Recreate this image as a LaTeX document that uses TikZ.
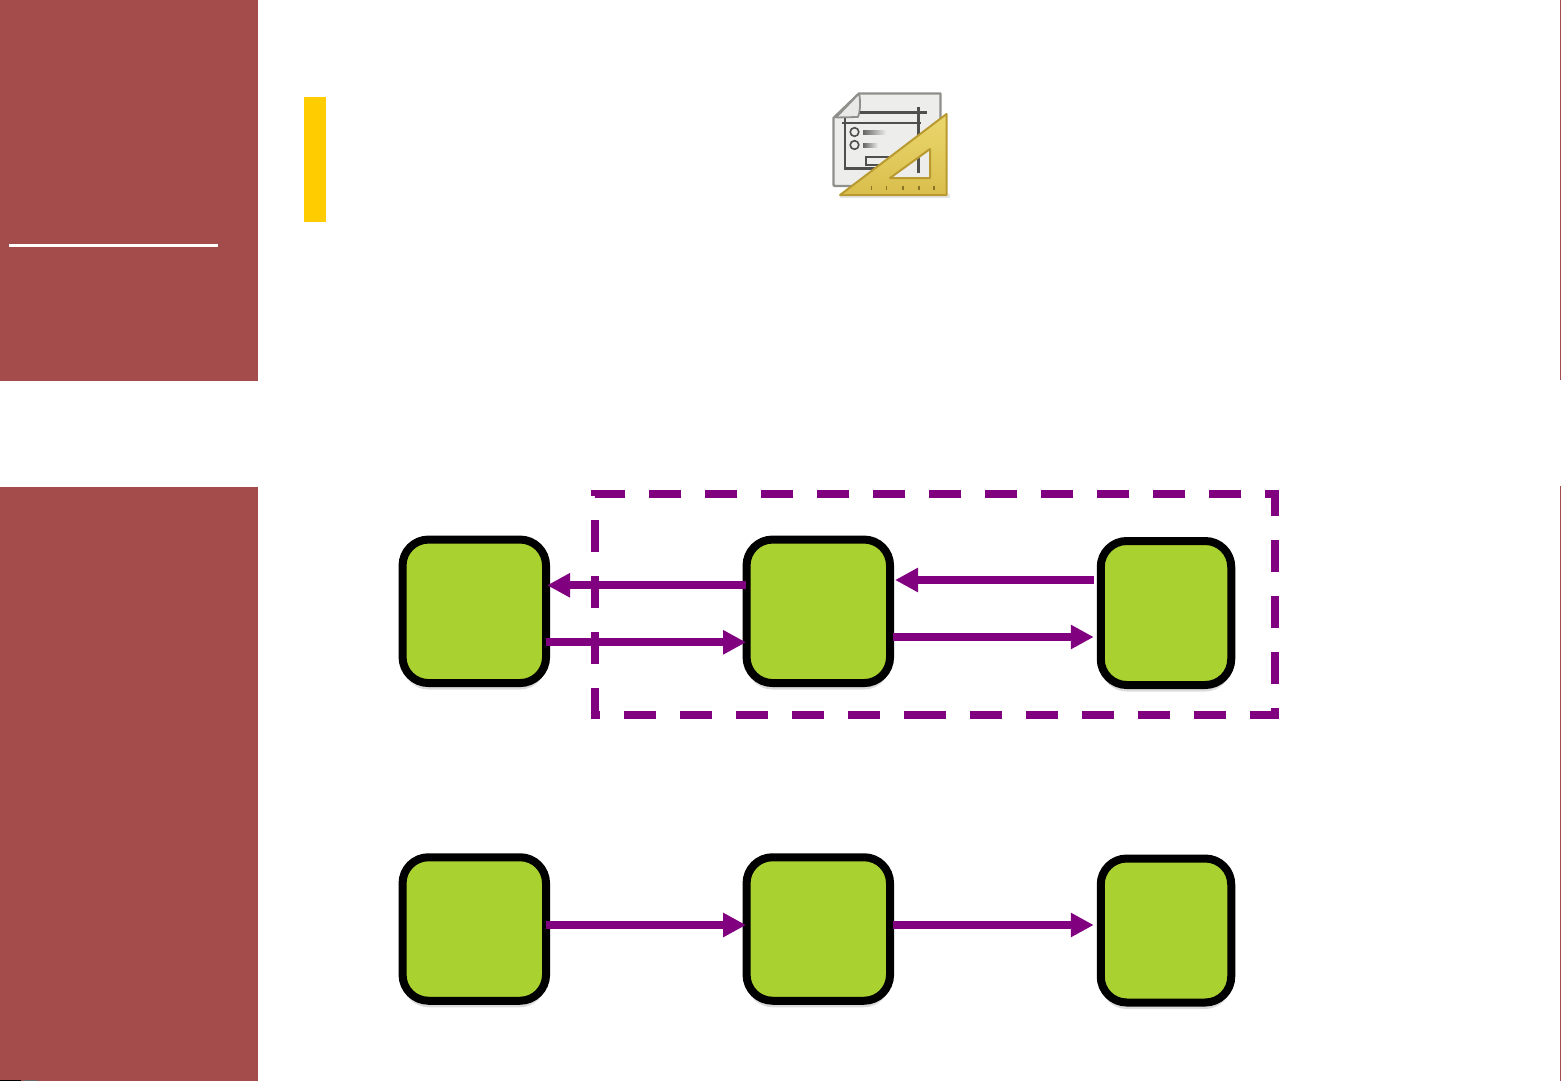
\documentclass[tikz,border=0pt]{standalone}
\usetikzlibrary{arrows.meta,shadows}
\definecolor{panelred}{HTML}{A44B4B}
\definecolor{bargold}{HTML}{FFCC00}
\definecolor{boxgreen}{HTML}{A9D12F}
\definecolor{linkpurple}{HTML}{800080}
\definecolor{pagegray}{HTML}{EDEDEB}
\definecolor{pageedge}{HTML}{8F8F8C}
\definecolor{inkgray}{HTML}{4F4F4D}
\definecolor{squareedge}{HTML}{B89A30}
\definecolor{squaretop}{HTML}{EBD76E}
\definecolor{squarelow}{HTML}{D9BE4C}
\tikzset{
  x=1pt,y=-1pt,
  panel/.style={fill=panelred,draw=none},
  stage/.style={rectangle,draw=black,fill=boxgreen,line width=8pt,rounded corners=26pt,
    inner sep=0pt,
    general shadow={shadow xshift=0pt,shadow yshift=-6.5pt,fill=black,opacity=.14}},
  bigstage/.style={stage,minimum width=143.5pt,minimum height=143.5pt},
  endstage/.style={stage,minimum width=130.5pt,minimum height=144pt},
  link/.style={draw=linkpurple,line width=8pt,-{Triangle[length=23pt,width=23pt]}},
  fence/.style={draw=linkpurple,line width=8pt,dash pattern=on 32pt off 24pt,line join=miter},
}
\begin{document}
\begin{tikzpicture}
\useasboundingbox (0,0) rectangle (1561,1081);
% panels
\fill[panel] (0,0) rectangle (258,381);
\fill[panel] (0,487) rectangle (258,1081);
\fill[panel] (1560,0) rectangle (1561,380);
\fill[panel] (1560,486) rectangle (1561,1081);
\fill[white] (9,243.5) rectangle (218,247);
\fill[bargold] (303.7,97.3) rectangle (326.3,222.3);
\fill[black] (0,1079.7) rectangle (21,1081);
\fill[black!60] (24,1079.7) rectangle (37,1081);
% icon
\fill[black,opacity=.10] (840,194) rectangle (950,198);
\draw[pageedge,fill=pagegray,line width=2.4pt,line join=round]
  (859,93.5) -- (940.5,93.5) -- (940.5,186) -- (835,186) .. controls (833.5,186) and (833.5,185) .. (833.5,184) -- (833.5,118) -- cycle;
\draw[pageedge,fill=white!80!pageedge,line width=1.8pt,line join=round]
  (859,93.5) .. controls (861,102) and (860,112) .. (858,117) -- (836,117.5) -- cycle;
\draw[inkgray,line width=2.4pt] (860,112.5) -- (927,112.5);
\draw[inkgray,line width=2.4pt] (842,123) -- (921,123);
\draw[inkgray,line width=2.4pt] (845,118) -- (845,168.5) -- (880,168.5);
\draw[inkgray,line width=2.4pt] (918.5,107) -- (918.5,173);
\draw[inkgray,line width=1.6pt] (854.5,132) circle (4.3);
\draw[inkgray,line width=1.6pt] (854.5,145) circle (4.3);
\shade[left color=black!60,right color=pagegray] (863,130) rectangle (886,134.5);
\shade[left color=black!60,right color=pagegray] (863,143) rectangle (878,147.5);
\draw[inkgray,line width=1.8pt] (866,157) rectangle (888,165);
\path[even odd rule,draw=squareedge,line width=2pt,line join=round,top color=squaretop,bottom color=squarelow]
  (946.5,114) -- (946.5,195) -- (840,195) -- cycle
  (930,149) -- (930,178) -- (890,178) -- cycle;
\foreach \tx in {871.5,886.5,903,919,934}
  \draw[squareedge!75!black,line width=1.1pt] (\tx,185.5) -- (\tx,190);
% fence
\draw[fence] (961,494) -- (595,494) -- (595,715) -- (936,715);
\draw[fence] (985,494) -- (1275,494) -- (1275,715) -- (914,715);
% nodes
\node[bigstage] (a1) at (474.3,611.3) {};
\node[bigstage] (b1) at (818.3,611.3) {};
\node[endstage] (c1) at (1166,613) {};
\node[bigstage] (a2) at (474.3,929) {};
\node[bigstage] (b2) at (818.3,929) {};
\node[endstage] (c2) at (1166,930.5) {};
% connectors
\draw[link] ([xshift=3.5pt,yshift=26pt]b1.west) -- ([xshift=-3pt,yshift=26pt]a1.east);
\draw[link] ([xshift=-4pt,yshift=-31pt]a1.east) -- ([xshift=3.5pt,yshift=-31pt]b1.west);
\draw[link] ([xshift=-3pt,yshift=33pt]c1.west) -- ([xshift=1pt,yshift=31.3pt]b1.east);
\draw[link] ([xshift=-1pt,yshift=-25.7pt]b1.east) -- ([xshift=-3pt,yshift=-24pt]c1.west);
\draw[link] ([xshift=-4pt,yshift=4pt]a2.east) -- ([xshift=3.5pt,yshift=4pt]b2.west);
\draw[link] ([xshift=-1pt,yshift=4pt]b2.east) -- ([xshift=-3pt,yshift=5.5pt]c2.west);
\end{tikzpicture}
\end{document}
